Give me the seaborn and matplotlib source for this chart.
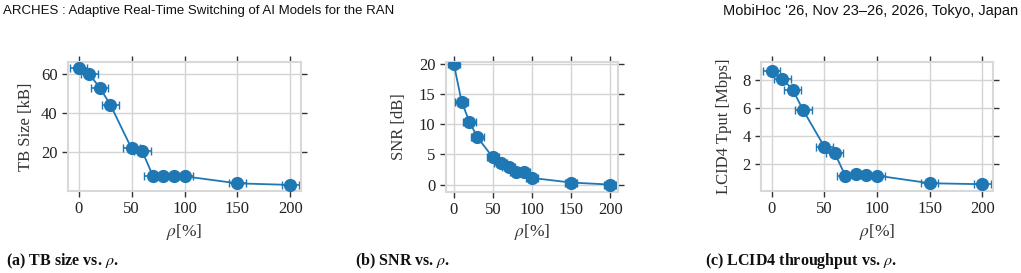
import numpy as np
import pandas as pd
import matplotlib.pyplot as plt
import seaborn as sns

# andmed (loetud jooniselt)
rho = [0, 10, 20, 30, 50, 60, 70, 80, 90, 100, 150, 200]
tb_size = [63.0, 60.0, 53.0, 44.3, 22.0, 20.7, 8.2, 8.2, 8.0, 7.8, 4.2, 3.4]
snr = [20.0, 13.7, 10.4, 7.85, 4.5, 3.6, 2.9, 2.0, 2.0, 1.1, 0.33, 0.0]
tput = [8.61, 8.07, 7.29, 5.83, 3.25, 2.78, 1.18, 1.32, 1.25, 1.2, 0.66, 0.59]
rho_err = [8] * len(rho)

ylabels = ["TB Size [kB]", "SNR [dB]", "LCID4 Tput [Mbps]"]
captions = [r"(a) TB size vs. $\rho$.", r"(b) SNR vs. $\rho$.", r"(c) LCID4 throughput vs. $\rho$."]
yticks = [[20, 40, 60], [0, 5, 10, 15, 20], [2, 4, 6, 8]]
ylims = [(0.3, 66.1), (-1.15, 20.3), (0.11, 9.24)]
xticks = [0, 50, 100, 150, 200]

sns.set_theme(style="whitegrid")
plt.rcParams['font.family'] = ['Liberation Serif', 'DejaVu Serif']
plt.rcParams['mathtext.fontset'] = 'stix'

W, H = 1021, 273
fig = plt.figure(figsize=(W / 100, H / 100), dpi=100)

# paneelide asukohad pikslites: vasak, parem, ülemine, alumine
boxes = [(68, 301, 62, 191), (446, 618, 62, 191.5), (761, 993, 62, 191)]
ylab_x = [26, 399, 724]
cap_x = [6, 355, 705]
series = [tb_size, snr, tput]
blue = "#1f77b4"

for i, (l, r, t, b) in enumerate(boxes):
    ax = fig.add_axes([l / W, 1 - b / H, (r - l) / W, (b - t) / H])
    df = pd.DataFrame({"rho": rho, "val": series[i]})
    ax.errorbar(df["rho"], df["val"], xerr=rho_err, fmt="none", ecolor=blue,
                elinewidth=1.2, capsize=3, capthick=1.0, zorder=2)
    sns.lineplot(data=df, x="rho", y="val", ax=ax, color=blue, marker="o",
                 markersize=9.5, markeredgewidth=0, linewidth=1.3, zorder=3)
    ax.set_xlim(-10, 210)
    ax.set_ylim(*ylims[i])
    ax.set_xticks(xticks)
    ax.set_yticks(yticks[i])
    ax.grid(True, color="#d4d4d4", linewidth=1.0)
    for s in ax.spines.values():
        s.set_color("#d8d8d8")
        s.set_linewidth(1.5)
    ax.tick_params(axis="both", which="both", direction="out", length=4.5, width=1.0,
                   color="#333333", top=True, right=True, bottom=True, left=True,
                   labelsize=12, labelcolor="#222222", pad=3)
    ax.set_xlabel(r"$\rho$[%]", fontsize=12.5, color="#333333", labelpad=3)
    ax.set_ylabel("")
    fig.text(ylab_x[i] / W, 1 - ((t + b) / 2) / H, ylabels[i], rotation=90,
             ha="center", va="center", fontsize=12, color="#333333")
    fig.text(cap_x[i] / W, 1 - 261 / H, captions[i], ha="left", va="center",
             fontsize=11.5, fontweight="bold", color="#111111")

hdr_font = ['Liberation Sans Narrow', 'Liberation Sans', 'DejaVu Sans']
fig.text(3 / W, 1 - 11 / H, "ARCHES : Adaptive Real-Time Switching of AI Models for the RAN",
         ha="left", va="center", fontsize=9.5, family=hdr_font, color="#111111")
fig.text(1018 / W, 1 - 11 / H, "MobiHoc '26, Nov 23–26, 2026, Tokyo, Japan",
         ha="right", va="center", fontsize=10.5, family=hdr_font, color="#111111")

fig.savefig("out.png", dpi=100)
